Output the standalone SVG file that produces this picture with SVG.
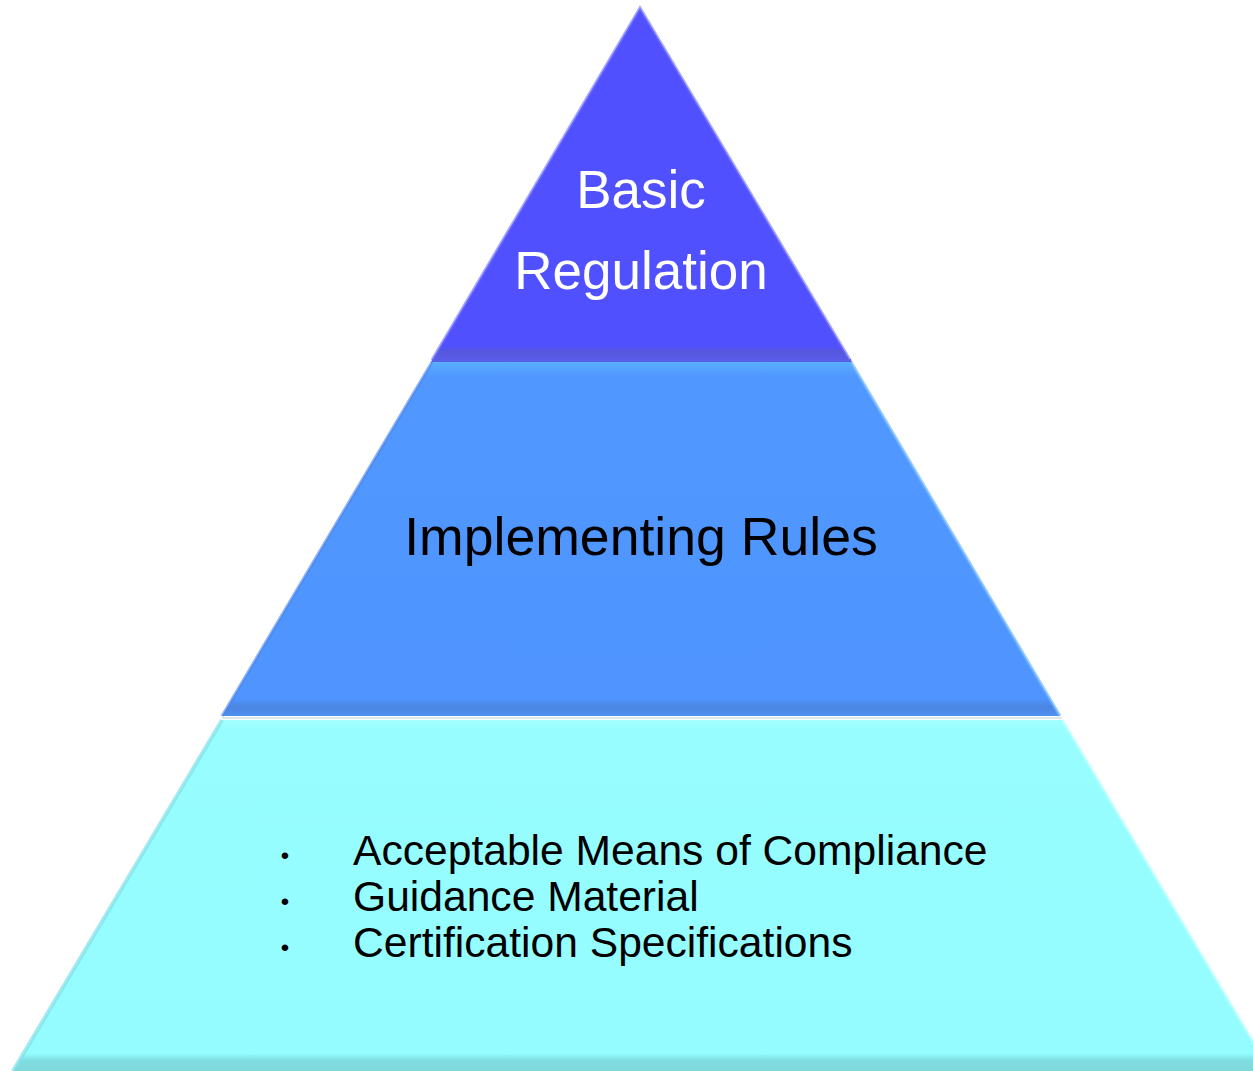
<svg xmlns="http://www.w3.org/2000/svg" width="1253" height="1071" viewBox="0 0 1253 1071">
<style>
.t{font-family:"Liberation Sans",Arial,sans-serif;text-anchor:middle}
.l{font-family:"Liberation Sans",Arial,sans-serif;font-size:42.6px;fill:#000}
.b{font-family:"Liberation Sans",Arial,sans-serif;font-size:24px;fill:#000;text-anchor:middle}
</style>
<defs>
<linearGradient id="g1" x1="0" y1="0" x2="0" y2="1">
<stop offset="0" stop-color="#5050FF"/><stop offset="0.96" stop-color="#5050FF"/><stop offset="0.975" stop-color="#5557DD"/><stop offset="1" stop-color="#5A5CE8"/>
</linearGradient>
<linearGradient id="g2" x1="0" y1="0" x2="0" y2="1">
<stop offset="0" stop-color="#5AAEFF"/><stop offset="0.04" stop-color="#5098FF"/><stop offset="0.95" stop-color="#4F94FF"/><stop offset="0.975" stop-color="#4B86E2"/><stop offset="1" stop-color="#5090F0"/>
</linearGradient>
<linearGradient id="g3" x1="0" y1="0" x2="0" y2="1">
<stop offset="0" stop-color="#A3FFFF"/><stop offset="0.03" stop-color="#97FDFF"/><stop offset="0.95" stop-color="#94FCFF"/><stop offset="0.97" stop-color="#80DDE2"/><stop offset="1" stop-color="#7FD8DC"/>
</linearGradient>
</defs>
<polygon points="432,359 851,359 852,363 431,363" fill="#5660E8"/>
<g id="tier-top">
<polygon points="640,8 432,360 850,360" fill="url(#g1)"/>
<polyline points="432,360 640,8 850,360" fill="none" stroke="#7070FF" stroke-width="3" stroke-opacity="0.6"/>
<text class="t" x="641" y="208" font-size="53" fill="#FFFFFF">Basic</text>
<text class="t" x="641" y="289" font-size="53" fill="#FFFFFF">Regulation</text>
</g>
<g id="tier-middle">
<polygon points="432,362 851,362 1060,716 222,716" fill="url(#g2)"/>
<line x1="432" y1="362" x2="222" y2="716" stroke="#4A80E8" stroke-width="3" stroke-opacity="0.6"/>
<line x1="851" y1="362" x2="1060" y2="716" stroke="#70B8FF" stroke-width="3" stroke-opacity="0.7"/>
<text class="t" x="641" y="555" font-size="53.6" fill="#000000">Implementing Rules</text>
</g>
<line x1="222" y1="718" x2="1062" y2="718" stroke="#D8E8EE" stroke-width="2"/>
<g id="tier-bottom">
<polygon points="222,720 1062,720 1270,1071 13,1071" fill="url(#g3)"/>
<line x1="222" y1="720" x2="13" y2="1071" stroke="#80E0E8" stroke-width="4" stroke-opacity="0.7"/>
<line x1="1062" y1="720" x2="1270" y2="1071" stroke="#B0FFFF" stroke-width="3" stroke-opacity="0.7"/>
<text class="b" x="285" y="864">•</text>
<text class="b" x="285" y="910">•</text>
<text class="b" x="285" y="956">•</text>
<text class="l" x="353" y="865">Acceptable Means of Compliance</text>
<text class="l" x="353" y="911">Guidance Material</text>
<text class="l" x="353" y="957">Certification Specifications</text>
</g>
</svg>
